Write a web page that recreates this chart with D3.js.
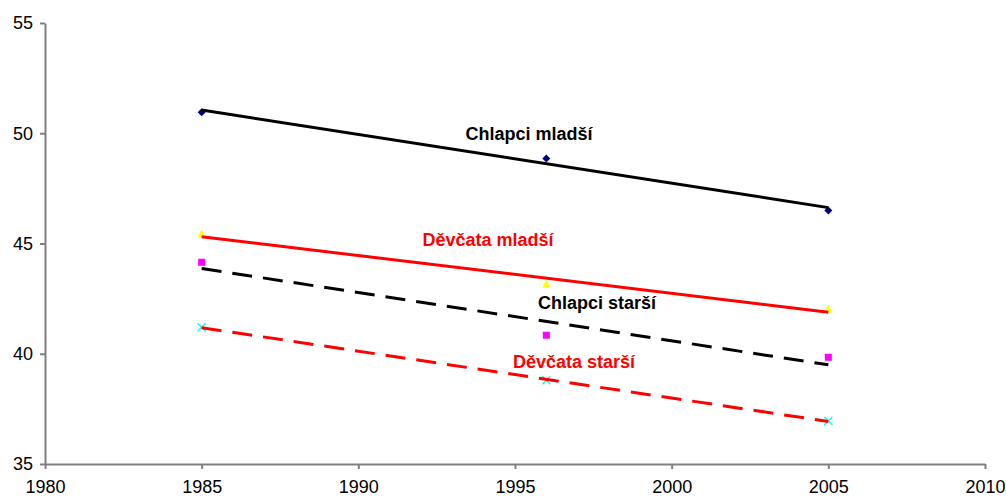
<!DOCTYPE html>
<html>
<head>
<meta charset="utf-8">
<script src="https://cdn.jsdelivr.net/npm/d3@7/dist/d3.min.js"></script>
<style>
  html, body { margin: 0; padding: 0; background: #fff; }
  svg { display: block; font-family: "Liberation Sans", Arial, sans-serif; }
</style>
</head>
<body>
<svg id="chart" width="1006" height="497"></svg>
<script>
// Survey years
const years = [1985, 1996, 2005];

// Measured values per group
const chlapciMladsi = [50.95, 48.85, 46.5];
const chlapciStarsi = [44.15, 40.84, 39.84];
const devcataMladsi = [45.43, 43.16, 42.03];
const devcataStarsi = [41.2, 38.8, 36.95];

// Axis ticks
const xTicks = [1980, 1985, 1990, 1995, 2000, 2005, 2010];
const yTicks = [35, 40, 45, 50, 55];

const series = [
  { name: "Chlapci mladší", values: chlapciMladsi, marker: "diamond", fill: "#000080",
    trend: "#000000", dash: null, label: [529, 140], labelColor: "#000000" },
  { name: "Chlapci starší", values: chlapciStarsi, marker: "square", fill: "#FF00FF",
    trend: "#000000", dash: "20,11", label: [597, 309], labelColor: "#000000" },
  { name: "Děvčata mladší", values: devcataMladsi, marker: "triangle", fill: "#FFFF00",
    trend: "#FF0000", dash: null, label: [488, 246], labelColor: "#FF0000" },
  { name: "Děvčata starší", values: devcataStarsi, marker: "cross", fill: "#00FFFF",
    trend: "#FF0000", dash: "20,11", label: [574, 368], labelColor: "#FF0000" }
];

const svg = d3.select("#chart");
const x = d3.scaleLinear().domain([1980, 2010]).range([45, 985]);
const y = d3.scaleLinear().domain([35, 55]).range([464, 23]);

// Axes
const xAxis = d3.axisBottom(x).tickValues(xTicks).tickFormat(d3.format("d"))
  .tickSizeInner(5).tickSizeOuter(0).tickPadding(11);
const yAxis = d3.axisLeft(y).tickValues(yTicks)
  .tickSizeInner(5).tickSizeOuter(0).tickPadding(7);

const gx = svg.append("g").attr("transform", `translate(0,${y(35)})`).call(xAxis);
const gy = svg.append("g").attr("transform", `translate(${x(1980)},0)`).call(yAxis);
[gx, gy].forEach(g => {
  g.selectAll("path.domain").attr("stroke", "#808080").attr("stroke-width", 2);
  g.selectAll(".tick line").attr("stroke", "#808080").attr("stroke-width", 2);
  g.selectAll(".tick text").attr("fill", "#000").style("font-size", "18px")
    .style("font-family", "'Liberation Sans', Arial, sans-serif");
});

// Least-squares linear trend for a series
function trendFit(xs, ys) {
  const mx = d3.mean(xs), my = d3.mean(ys);
  const sxy = d3.sum(xs, (v, i) => (v - mx) * (ys[i] - my));
  const sxx = d3.sum(xs, v => (v - mx) * (v - mx));
  const b = sxy / sxx;
  return v => my + b * (v - mx);
}

const line = d3.line().x(d => x(d[0])).y(d => y(d[1]));

// Markers
const markerG = svg.append("g");
series.forEach(s => {
  s.values.forEach((v, i) => {
    const cx = x(years[i]), cy = y(v);
    if (s.marker === "diamond") {
      markerG.append("path").attr("d", `M${cx},${cy - 4}L${cx + 4},${cy}L${cx},${cy + 4}L${cx - 4},${cy}Z`)
        .attr("fill", s.fill);
    } else if (s.marker === "square") {
      markerG.append("rect").attr("x", cx - 3.5).attr("y", cy - 3.5)
        .attr("width", 7).attr("height", 7).attr("fill", s.fill);
    } else if (s.marker === "triangle") {
      markerG.append("path").attr("d", `M${cx},${cy - 4.5}L${cx + 4},${cy + 3.5}L${cx - 4},${cy + 3.5}Z`)
        .attr("fill", s.fill);
    } else {
      markerG.append("path").attr("d", `M${cx - 4},${cy - 4}L${cx + 4},${cy + 4}M${cx - 4},${cy + 4}L${cx + 4},${cy - 4}`)
        .attr("stroke", s.fill).attr("stroke-width", 1.5).attr("fill", "none");
    }
  });
});

// Trend lines
series.forEach(s => {
  const f = trendFit(years, s.values);
  const ends = [years[0], years[years.length - 1]].map(v => [v, f(v)]);
  svg.append("path").attr("d", line(ends))
    .attr("fill", "none").attr("stroke", s.trend).attr("stroke-width", 3)
    .attr("stroke-dasharray", s.dash);
});

// Series labels
series.forEach(s => {
  svg.append("text").attr("x", s.label[0]).attr("y", s.label[1])
    .attr("text-anchor", "middle").attr("fill", s.labelColor)
    .style("font-size", "18px").style("font-weight", "bold")
    .text(s.name);
});
</script>
</body>
</html>
